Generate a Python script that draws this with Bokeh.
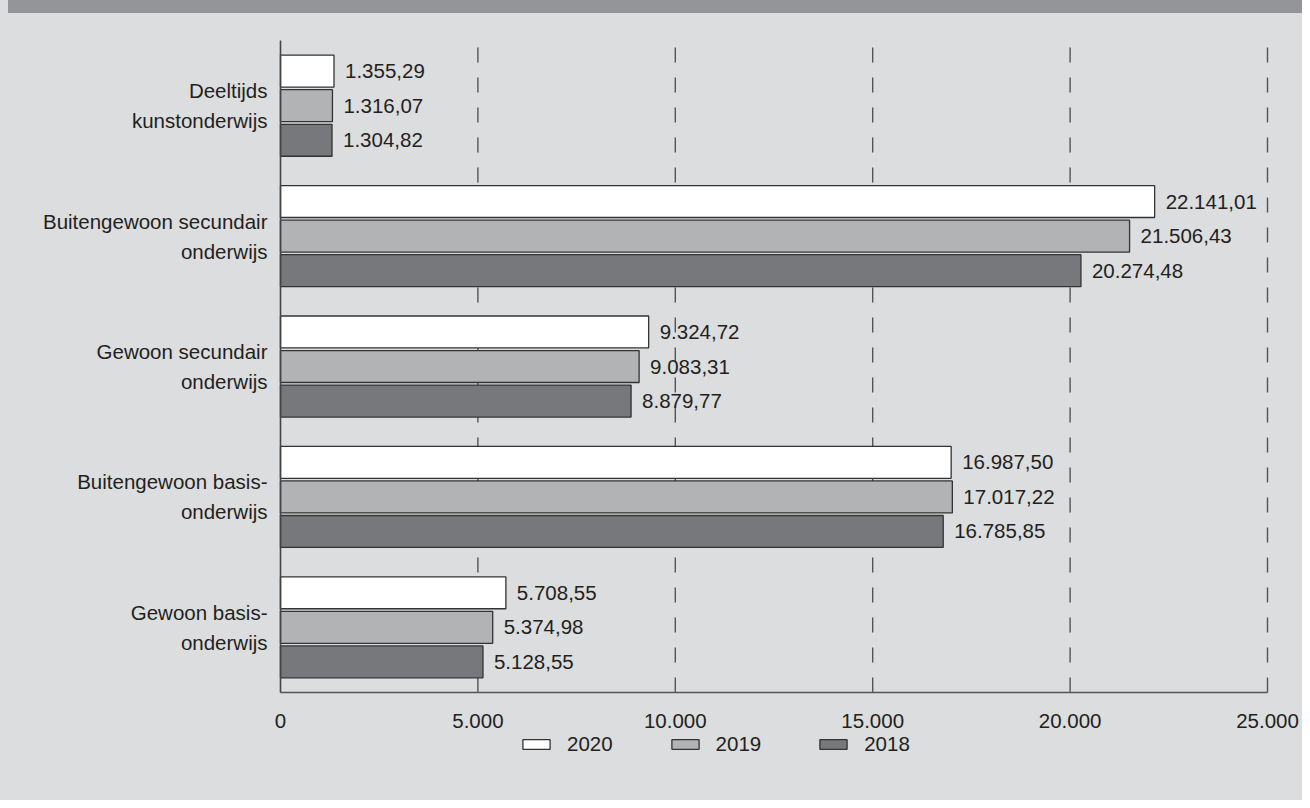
from bokeh.plotting import figure
from bokeh.models import ColumnDataSource, FixedTicker, Range1d, Legend, LegendItem, Div
from bokeh.layouts import column
from bokeh.transform import dodge
from bokeh.embed import file_html
from bokeh.resources import INLINE
from bokeh.core.properties import value

categories = ["Deeltijds\nkunstonderwijs",
              "Buitengewoon secundair\nonderwijs",
              "Gewoon secundair\nonderwijs",
              "Buitengewoon basis-\nonderwijs",
              "Gewoon basis-\nonderwijs"]
years = ["2020", "2019", "2018"]
v2020 = [1355.29, 22141.01, 9324.72, 16987.50, 5708.55]
v2019 = [1316.07, 21506.43, 9083.31, 17017.22, 5374.98]
v2018 = [1304.82, 20274.48, 8879.77, 16785.85, 5128.55]
x_ticks = [0, 5000, 10000, 15000, 20000, 25000]
x_tick_labels = ["0", "5.000", "10.000", "15.000", "20.000", "25.000"]

colors = {"2020": "#ffffff", "2019": "#b2b3b5", "2018": "#77787b"}
offsets = {"2020": 0.265, "2019": 0.0, "2018": -0.265}
series = {"2020": v2020, "2019": v2019, "2018": v2018}

FONT = "Liberation Sans"
FS = "20.5px"
TXT = "#231f20"
BG = "#dcdddf"

def nl(v):
    s = f"{v:,.2f}"
    return s.replace(",", "X").replace(".", ",").replace("X", ".")

n = len(categories)
pos = [n - 0.5 - i for i in range(n)]
xmax = x_ticks[-1]

# the plotting frame covers the whole figure; axes are fixed at x=0 and y=0
p = figure(width=1302, height=787, output_backend="svg", toolbar_location=None,
           x_range=Range1d(-0.28368 * xmax, 1.03546 * xmax), y_range=Range1d(-0.828, n + 0.207),
           min_border=0)
p.background_fill_color = BG
p.border_fill_color = BG
p.outline_line_color = None

# dashed vertical grid lines between axis and top
gsrc = ColumnDataSource(dict(x=x_ticks[1:], y0=[0] * (len(x_ticks) - 1), y1=[n] * (len(x_ticks) - 1)))
p.segment(x0="x", y0="y0", x1="x", y1="y1", source=gsrc,
          line_color="#555558", line_width=1.4, line_dash="15 15")

items = []
for yr in years:
    src = ColumnDataSource(dict(pos=pos, val=series[yr], lab=[nl(v) for v in series[yr]]))
    r = p.hbar(y=dodge("pos", offsets[yr], range=p.y_range), right="val", left=0, height=0.245,
               source=src, fill_color=colors[yr], line_color="#333333", line_width=1.3)
    p.text(x="val", y=dodge("pos", offsets[yr], range=p.y_range), text="lab", source=src,
           x_offset=11, text_align="left", text_baseline="middle",
           text_font=value(FONT), text_font_size=FS, text_color=TXT)
    items.append(LegendItem(label=yr, renderers=[r]))

# x axis at y = 0
xa = p.xaxis[0]
xa.fixed_location = 0
xa.bounds = (0, xmax)
xa.ticker = FixedTicker(ticks=x_ticks)
xa.major_label_overrides = {t: l for t, l in zip(x_ticks, x_tick_labels)}
xa.major_tick_line_color = None
xa.minor_tick_line_color = None
xa.major_tick_out = 0
xa.major_tick_in = 0
xa.major_label_standoff = 21
xa.axis_line_color = "#555555"
xa.axis_line_width = 1.6
xa.major_label_text_font = FONT
xa.major_label_text_font_size = FS
xa.major_label_text_color = TXT

# y axis at x = 0
ya = p.yaxis[0]
ya.fixed_location = 0
ya.bounds = (0, n)
ya.ticker = FixedTicker(ticks=pos)
ya.major_label_overrides = {t: c for t, c in zip(pos, categories)}
ya.major_tick_line_color = None
ya.minor_tick_line_color = None
ya.major_tick_out = 0
ya.major_tick_in = 0
ya.major_label_standoff = 13
ya.axis_line_color = "#444444"
ya.axis_line_width = 1.6
ya.major_label_text_font = FONT
ya.major_label_text_font_size = FS
ya.major_label_text_color = TXT
ya.major_label_text_line_height = 1.3

p.xgrid.grid_line_color = None
p.ygrid.grid_line_color = None

legend = Legend(items=items, orientation="horizontal", location=(519, 44),
                glyph_width=34, glyph_height=12, label_standoff=14, spacing=55,
                padding=0, margin=0, background_fill_alpha=0, border_line_color=None,
                label_text_font=FONT, label_text_font_size=FS, label_text_color=TXT)
p.add_layout(legend, "center")

band = Div(width=1294, height=13, styles={"background-color": "#939598"}, margin=(0, 0, 0, 8))
layout = column(band, p, spacing=0, styles={"background-color": BG})

open("out.html", "w").write(file_html(layout, INLINE))
